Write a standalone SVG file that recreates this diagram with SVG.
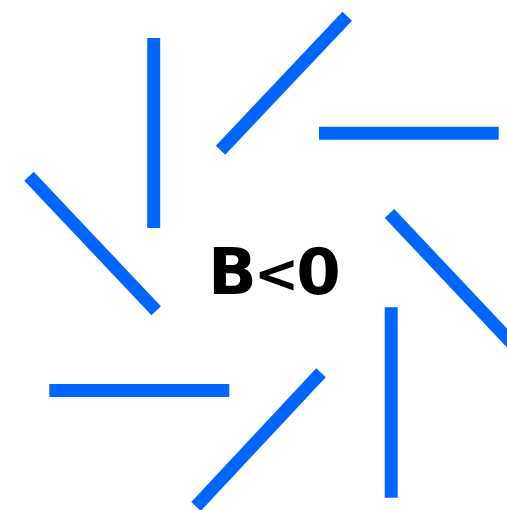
<svg xmlns="http://www.w3.org/2000/svg" width="507" height="510" viewBox="0 0 507 510">
<style>
.l{stroke:#0066ff;stroke-width:13;stroke-linecap:butt;fill:none}
.t{font-family:"DejaVu Sans",sans-serif;font-weight:bold;font-size:64px;fill:#000;text-anchor:middle}
</style>
<rect width="507" height="510" fill="#fff"/>
<g id="lines">
<line class="l" x1="153.7" y1="38" x2="153.7" y2="228"/>
<line class="l" x1="347.2" y1="16.2" x2="220.5" y2="150.3"/>
<line class="l" x1="319" y1="133.2" x2="498.7" y2="133.2"/>
<line class="l" x1="29" y1="176.3" x2="156.2" y2="310.8"/>
<line class="l" x1="389.5" y1="213.5" x2="516.5" y2="348"/>
<line class="l" x1="391.2" y1="307.3" x2="391.2" y2="497.7"/>
<line class="l" x1="49.3" y1="390.5" x2="229.3" y2="390.5"/>
<line class="l" x1="321" y1="372.8" x2="196" y2="506.5"/>
</g>
<g id="label">
<text class="t" y="293.5"><tspan x="232.5">B</tspan><tspan x="276.5" style="font-size:54px" dy="-2">&lt;</tspan><tspan x="318.5" dy="2">0</tspan></text>
</g>
</svg>
